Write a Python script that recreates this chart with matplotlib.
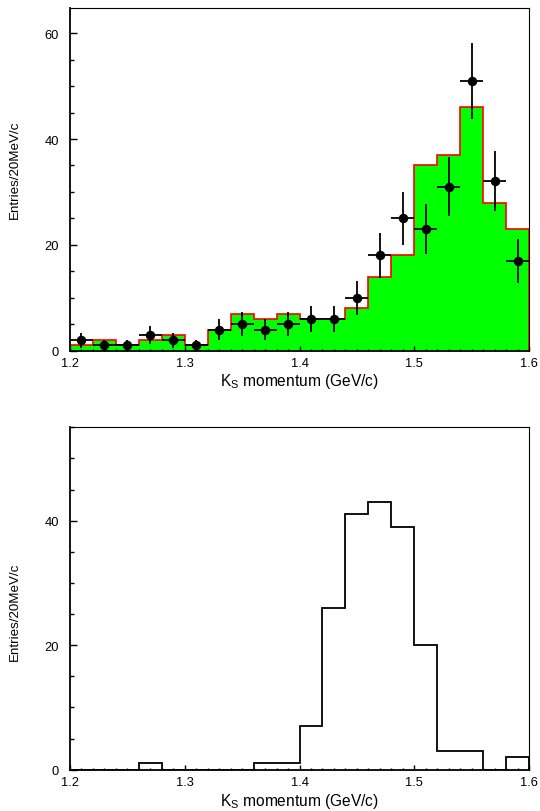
import numpy as np
import matplotlib
matplotlib.use("Agg")
import matplotlib.pyplot as plt
from matplotlib.ticker import MultipleLocator, FormatStrFormatter

plt.rcParams['font.family'] = ['Liberation Sans', 'DejaVu Sans']
plt.rcParams['mathtext.default'] = 'regular'

# K_S momentum bins (GeV/c), 20 MeV/c wide
bin_edges = [1.20, 1.22, 1.24, 1.26, 1.28, 1.30, 1.32, 1.34, 1.36, 1.38, 1.40,
             1.42, 1.44, 1.46, 1.48, 1.50, 1.52, 1.54, 1.56, 1.58, 1.60]

# Upper panel: simulation (filled) and data points
mc_counts = [1, 2, 1, 2, 3, 1, 4, 7, 6, 7, 6, 6, 8, 14, 18, 35, 37, 46, 28, 23]
data_counts = [2, 1, 1, 3, 2, 1, 4, 5, 4, 5, 6, 6, 10, 18, 25, 23, 31, 51, 32, 17]

# Lower panel: second distribution
lower_counts = [0, 0, 0, 1, 0, 0, 0, 0, 1, 1, 7, 26, 41, 43, 39, 20, 3, 3, 0, 2]

x_label = "K$_S$ momentum (GeV/c)"
y_label = "Entries/20MeV/c"

W, H = 540, 812
fig = plt.figure(figsize=(W / 100, H / 100), dpi=100)

left, right = 70 / W, 529 / W
ax_h = 342.4 / H
ax_top = fig.add_axes([left, 1 - 351.7 / H, right - left, ax_h])
ax_bot = fig.add_axes([left, 1 - 770.7 / H, right - left, ax_h])

edges = np.array(bin_edges)
centers = 0.5 * (edges[:-1] + edges[1:])
half_w = 0.5 * np.diff(edges)

# upper panel
ax_top.stairs(mc_counts, edges, fill=True, color='#00ff00', zorder=1)
ax_top.stairs(mc_counts, edges, color='#ff0000', linewidth=1.2, zorder=2)
d = np.array(data_counts, dtype=float)
ax_top.errorbar(centers, d, xerr=half_w, yerr=np.sqrt(d), fmt='o', color='black',
                markersize=5.8, elinewidth=1.3, capsize=0, zorder=3, clip_on=False)
ax_top.set_ylim(0, 64.7)

# lower panel
ax_bot.stairs(lower_counts, edges, color='black', linewidth=1.3, zorder=2)
ax_bot.set_ylim(0, 55)

for ax, ylab_y, xlab_y in ((ax_top, 0.531, -0.086), (ax_bot, 0.463, -0.089)):
    ax.set_xlim(1.2, 1.6)
    ax.xaxis.set_major_locator(MultipleLocator(0.1))
    ax.xaxis.set_minor_locator(MultipleLocator(0.01))
    ax.xaxis.set_major_formatter(FormatStrFormatter('%.1f'))
    ax.yaxis.set_major_locator(MultipleLocator(20))
    ax.yaxis.set_minor_locator(MultipleLocator(5))
    ax.yaxis.set_major_formatter(FormatStrFormatter('%d'))
    ax.tick_params(which='both', direction='in', top=False, right=False,
                   labelsize=9.3, colors='black', width=1.0)
    ax.tick_params(axis='y', which='major', length=5.0, pad=8)
    ax.tick_params(axis='y', which='minor', length=2.8)
    ax.tick_params(axis='x', which='major', length=3.5, pad=4.5)
    ax.tick_params(axis='x', which='minor', length=1.8)
    for s in ('left', 'bottom'):
        ax.spines[s].set_linewidth(1.3)
    for s in ('top', 'right'):
        ax.spines[s].set_linewidth(0.8)
    ax.set_xlabel(x_label, fontsize=11.2)
    ax.set_ylabel(y_label, fontsize=9.6)
    ax.xaxis.set_label_coords(0.5, xlab_y)
    ax.xaxis.label.set_va('center')
    ax.yaxis.set_label_coords(-0.12, ylab_y)
    ax.yaxis.label.set_va('center')

fig.savefig("out.png", dpi=100)
